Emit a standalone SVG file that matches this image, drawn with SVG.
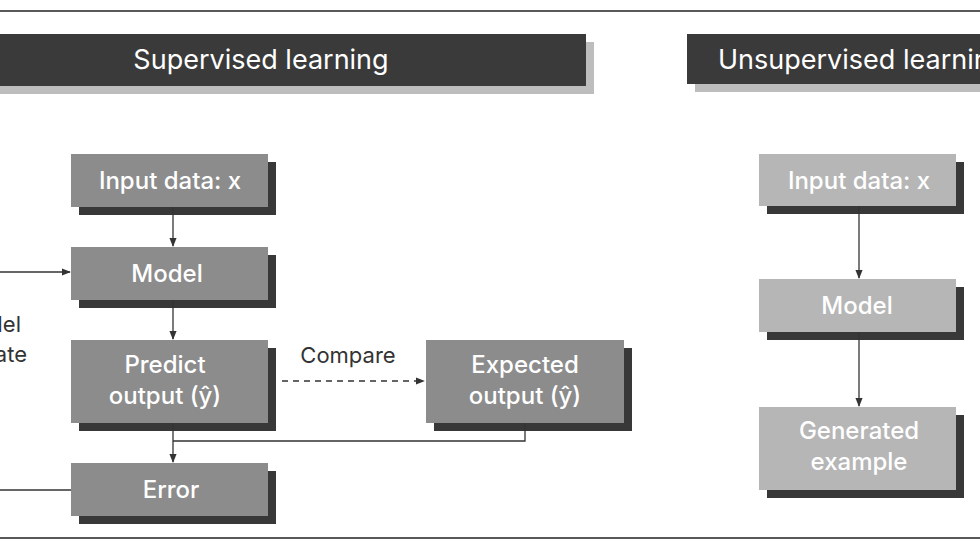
<svg xmlns="http://www.w3.org/2000/svg" width="980" height="551" viewBox="0 0 980 551">
<style>
text{font-family:"Inter","Liberation Sans",sans-serif;}
.hd{fill:#3a3a3a}.hs{fill:#bdbdbd}
.sh{fill:#383838}.b1{fill:#8c8c8c}.b2{fill:#b6b6b6}
.ht{fill:#fff;font-size:27px;text-anchor:middle}
.bt{fill:#fff;font-size:24px;font-weight:500;text-anchor:middle}
.lb{fill:#333;font-size:22px}
.c{stroke:#333;stroke-width:1.3;fill:none}
</style>
<defs><marker id="a" viewBox="0 0 10 10" refX="9" refY="5" markerWidth="7" markerHeight="7" orient="auto"><path d="M0,1 L10,5 L0,9z" fill="#333"/></marker></defs>
<rect width="980" height="551" fill="#fff"/>
<line x1="0" y1="11" x2="980" y2="11" stroke="#222" stroke-width="1.5"/>
<line x1="0" y1="538" x2="980" y2="538" stroke="#222" stroke-width="1.5"/>
<g id="sup-header"><rect class="hs" x="-10" y="42" width="604" height="52"/><rect class="hd" x="-10" y="34" width="596" height="52"/><text class="ht" x="261" y="69">Supervised learning</text></g>
<g id="unsup-header"><rect class="hs" x="695" y="42" width="300" height="50"/><rect class="hd" x="687" y="34" width="300" height="50"/><text class="ht" x="718" y="69" style="text-anchor:start">Unsupervised learning</text></g>
<g id="s-input"><rect class="sh" x="79" y="162" width="197" height="53"/><rect class="b1" x="71" y="154" width="197" height="53"/><text class="bt" x="170" y="189">Input data: x</text></g>
<g id="s-model"><rect class="sh" x="79" y="255" width="197" height="53"/><rect class="b1" x="71" y="247" width="197" height="53"/><text class="bt" x="167" y="282">Model</text></g>
<g id="s-predict"><rect class="sh" x="79" y="348" width="197" height="83"/><rect class="b1" x="71" y="340" width="197" height="83"/><text class="bt" x="165" y="373">Predict</text><text class="bt" x="165" y="404">output (ŷ)</text></g>
<g id="s-expected"><rect class="sh" x="434" y="348" width="198" height="83"/><rect class="b1" x="426" y="340" width="198" height="83"/><text class="bt" x="525" y="373">Expected</text><text class="bt" x="525" y="404">output (ŷ)</text></g>
<g id="s-error"><rect class="sh" x="79" y="471" width="197" height="53"/><rect class="b1" x="71" y="463" width="197" height="53"/><text class="bt" x="171" y="498">Error</text></g>
<g id="s-update"><text class="lb" x="21" y="332" text-anchor="end">Model</text><text class="lb" x="27" y="362" text-anchor="end">update</text></g>
<g id="u-input"><rect class="sh" x="767" y="162" width="197" height="52"/><rect class="b2" x="759" y="154" width="197" height="52"/><text class="bt" x="859" y="189">Input data: x</text></g>
<g id="u-model"><rect class="sh" x="767" y="287" width="197" height="53"/><rect class="b2" x="759" y="279" width="197" height="53"/><text class="bt" x="857" y="314">Model</text></g>
<g id="u-gen"><rect class="sh" x="767" y="415" width="197" height="83"/><rect class="b2" x="759" y="407" width="197" height="83"/><text class="bt" x="859" y="439">Generated</text><text class="bt" x="859" y="470">example</text></g>
<g id="connectors">
<line class="c" x1="173" y1="207" x2="173" y2="246" marker-end="url(#a)"/>
<line class="c" x1="173" y1="300" x2="173" y2="339" marker-end="url(#a)"/>
<line class="c" x1="173" y1="423" x2="173" y2="462" marker-end="url(#a)"/>
<polyline class="c" points="525,423 525,441 173,441"/>
<line class="c" x1="282" y1="381" x2="424" y2="381" stroke-dasharray="6,5" marker-end="url(#a)"/>
<text class="lb" x="348" y="363" text-anchor="middle">Compare</text>
<line class="c" x1="0" y1="272" x2="70" y2="272" marker-end="url(#a)"/>
<line class="c" x1="71" y1="490" x2="0" y2="490"/>
<line class="c" x1="859" y1="206" x2="859" y2="278" marker-end="url(#a)"/>
<line class="c" x1="859" y1="332" x2="859" y2="406" marker-end="url(#a)"/>
</g>
</svg>
